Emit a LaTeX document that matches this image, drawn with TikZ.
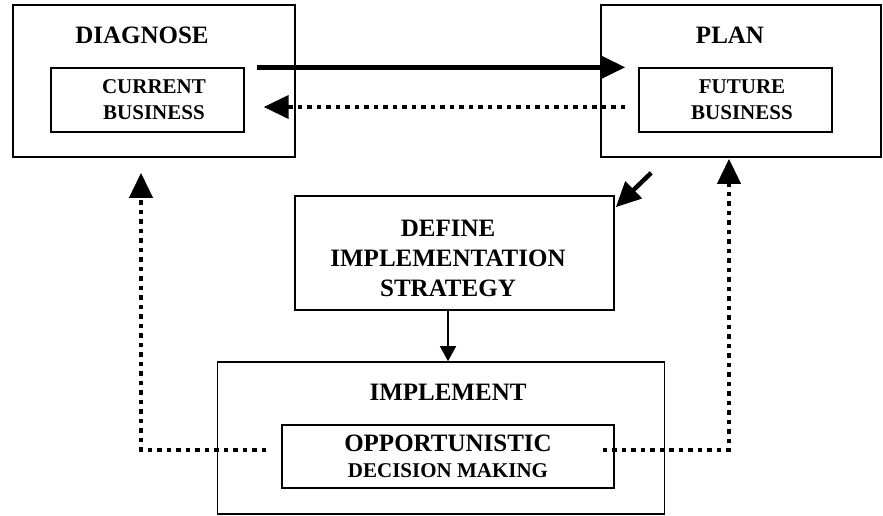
\documentclass[tikz,border=0pt]{standalone}
\usepackage{fontspec}
\setmainfont{Liberation Serif}
\usetikzlibrary{arrows.meta, calc}

\tikzset{
  outerbox/.style={draw, line width=1.6pt, inner sep=0pt},
  innerbox/.style={draw, line width=1.4pt, inner sep=0pt},
  inner text/.style={align=center, inner sep=0pt, font=\bfseries\fontsize{21}{26}\selectfont},
  title/.style={font=\bfseries\fontsize{25}{30}\selectfont, align=center, inner sep=0pt},
  bigarrow/.style={line width=4.5pt, -{Triangle[length=25pt,width=23pt]}},
  backarrow/.style={line width=4pt, dash pattern=on 4.5pt off 5pt, -{Triangle[length=25pt,width=23pt]}},
  thinarrow/.style={line width=1.6pt, -{Triangle[length=15pt,width=16pt]}},
}

\begin{document}
\begin{tikzpicture}[x=1pt, y=-1pt]
\useasboundingbox (0,0) rectangle (883,516);

% Diagnose box
\node[outerbox, minimum width=282pt, minimum height=152pt] (diag) at (154,81) {};
\node[title] (diagtitle) at (142,35) {DIAGNOSE};
\node[innerbox, minimum width=193pt, minimum height=64pt] (cur) at (147.5,100) {};
\node[inner text] (curtext) at (154,100) {CURRENT\\BUSINESS};

% Plan box
\node[outerbox, minimum width=280pt, minimum height=152pt] (plan) at (741,81) {};
\node[title] (plantitle) at (730,35) {PLAN};
\node[innerbox, minimum width=193pt, minimum height=64pt] (fut) at (735.5,100) {};
\node[inner text] (futtext) at (742,100) {FUTURE\\BUSINESS};

% Strategy box
\node[outerbox, minimum width=319pt, minimum height=114pt] (strat) at (454.5,253) {};
\node[title] (strattext) at (448,258) {DEFINE\\IMPLEMENTATION\\STRATEGY};

% Implement box
\node[outerbox, minimum width=447pt, minimum height=152pt] (impl) at (441,438) {};
\node[title] (impltitle) at (448,392) {IMPLEMENT};
\node[innerbox, minimum width=332pt, minimum height=63pt] (opp) at (448,456.5) {};
\node[inner text] (opptext) at (448,456.5) {{\fontsize{25}{27}\selectfont OPPORTUNISTIC}\\DECISION MAKING};

% Arrows between the top boxes
\draw[bigarrow] ($(cur.north east)+(12,0)$) -- ($(fut.north west)+(-13,0)$);
\draw[backarrow] ($(fut.west)+(-13,7)$) -- ($(cur.east)+(19,7)$);
\draw[bigarrow] ($(plan.south west)+(51,15)$) -- ($(strat.north east)+(1,12)$);

% Strategy to implement
\coordinate (down) at ($(strat.south)+(-6.5,0)$);
\draw[thinarrow] (down) -- (down |- impl.north);

% Feedback loops
\draw[backarrow] ($(opp.west)+(-15,-6.5)$) -| ($(diag.south)+(-13,15)$);
\draw[backarrow] ($(opp.east)+(-12,-6.5)$) -| ($(plan.south)+(-12,1)$);
\end{tikzpicture}
\end{document}
